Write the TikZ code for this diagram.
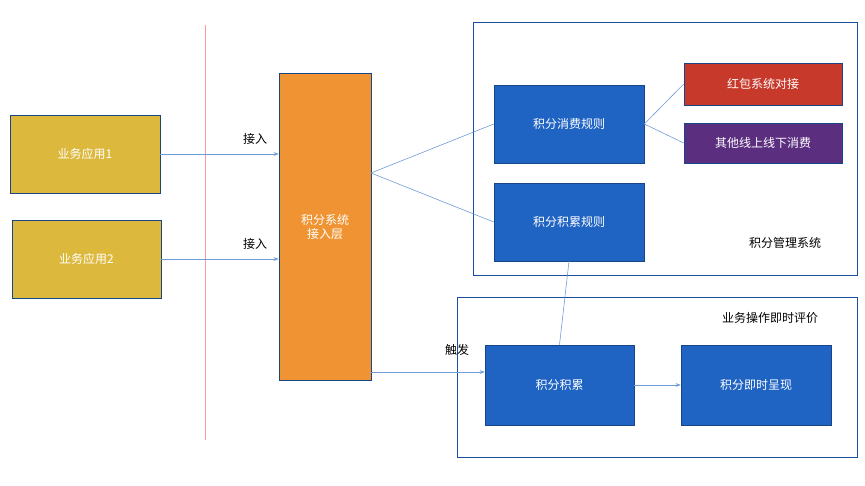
\documentclass[tikz,border=0pt]{standalone}
\usepackage{fontspec}
\setmainfont{Noto Sans CJK SC}
\usetikzlibrary{arrows.meta}
\definecolor{appyellow}{HTML}{DCB83C}
\definecolor{accorange}{HTML}{F09433}
\definecolor{ruleblue}{HTML}{1F63C3}
\definecolor{hbred}{HTML}{C7392B}
\definecolor{otherpurple}{HTML}{5B2E80}
\definecolor{linkblue}{HTML}{6F9BD8}
\begin{document}
\begin{tikzpicture}[
            x=1pt, y=-1pt,
            box/.style={draw=ruleblue!70!black, line width=0.6pt, text=white, font=\fontsize{12}{14}\selectfont, align=center},
            frame/.style={draw=ruleblue!80!black, line width=0.8pt},
            link/.style={draw=linkblue, line width=0.6pt},
            arr/.style={link, -{Stealth[length=5pt]}},
            lab/.style={font=\fontsize{12}{14}\selectfont},
            ]
            \useasboundingbox (0,0) rectangle (865,486);

            % frames
            \draw[frame] (473,22) rectangle (857,275);
            \node[lab] (mgmt) at (785,243) {积分管理系统};
            \draw[frame] (457,297) rectangle (857,457);
            \node[lab] (eval) at (770,318) {业务操作即时评价};

            % separator
            \draw[red!40, line width=0.6pt] (205,25) -- (205,440);

            % boxes
            \node[box, fill=appyellow, minimum width=150, minimum height=78] (app1) at (85,154) {业务应用1};
            \node[box, fill=appyellow, minimum width=149, minimum height=78] (app2) at (86.5,259) {业务应用2};
            \node[box, fill=accorange, minimum width=92, minimum height=307] (acc) at (325,226.5) {积分系统\\接入层};
            \node[box, fill=ruleblue, minimum width=150, minimum height=78] (spend) at (569,124) {积分消费规则};
            \node[box, fill=ruleblue, minimum width=150, minimum height=78] (earn) at (569,222) {积分积累规则};
            \node[box, fill=hbred, minimum width=158, minimum height=42] (hb) at (763,84) {红包系统对接};
            \node[box, fill=otherpurple, minimum width=158, minimum height=40] (other) at (763,143) {其他线上线下消费};
            \node[box, fill=ruleblue, minimum width=149, minimum height=80] (pts) at (559.5,385) {积分积累};
            \node[box, fill=ruleblue, minimum width=150, minimum height=80] (show) at (756,385) {积分即时呈现};

            % connectors
            \draw[arr] (app1.east) -- (acc.west |- app1.east) node[lab, pos=0.8, above=6pt, black] {接入};
            \draw[arr] (app2.east) -- (acc.west |- app2.east) node[lab, pos=0.8, above=6pt, black] {接入};
            \coordinate (accout) at (371,173);
            \draw[link] (accout) -- (spend.west);
            \draw[link] (accout) -- (earn.west);
            \draw[link] (spend.east) -- (hb.west);
            \draw[link] (spend.east) -- (other.west);
            \draw[link] (earn.south) -- (pts.north);
            \draw[arr] (acc.east |- 0,372) -- (pts.west |- 0,372);
            \node[lab] (trig) at (457,350) {触发};
            \draw[arr] (pts.east) -- (show.west);
        \end{tikzpicture}
\end{document}
